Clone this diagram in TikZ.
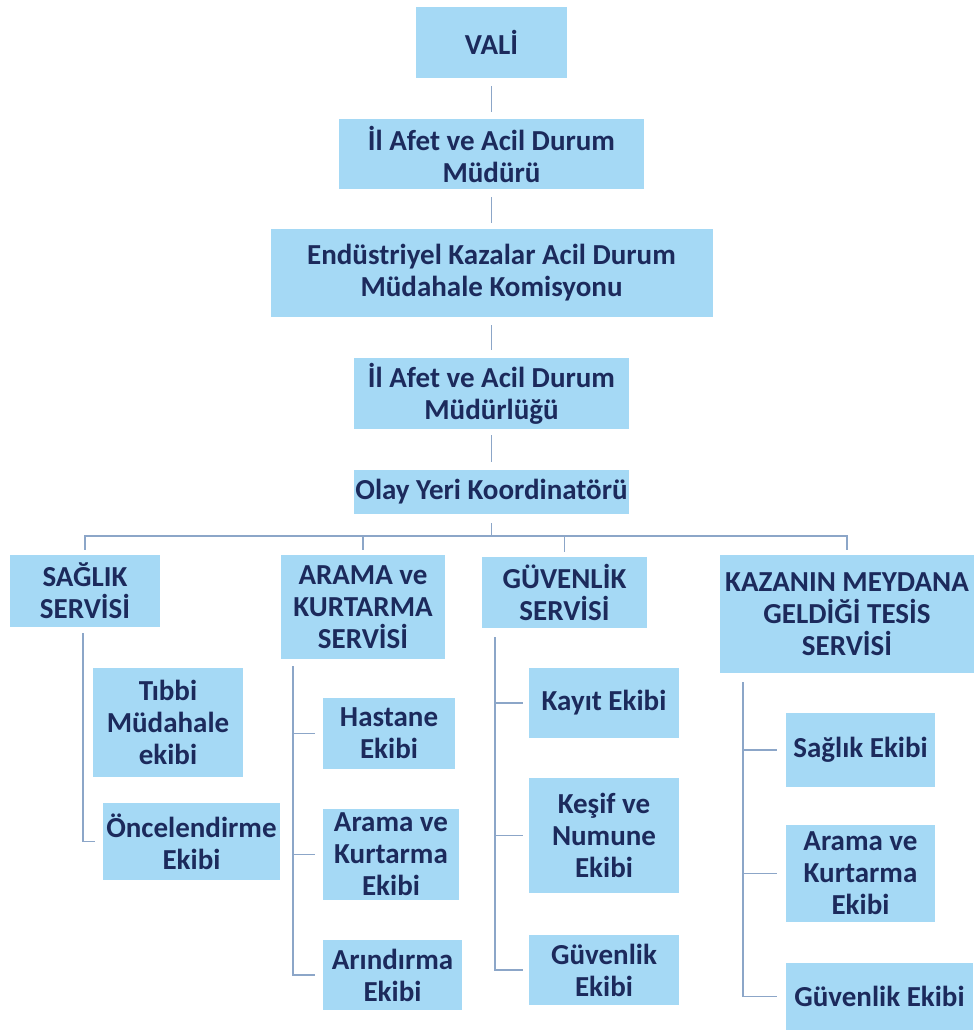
\documentclass[tikz,border=0pt]{standalone}
\usepackage{fontspec}
\setmainfont{Carlito}
\definecolor{boxfill}{RGB}{165,217,245}
\definecolor{boxtext}{RGB}{28,42,92}
\definecolor{linecol}{RGB}{140,166,200}
\begin{document}
\begin{tikzpicture}[x=1pt,y=-1pt,
  box/.style={fill=boxfill,draw=none,inner sep=0pt,align=center,
    font=\fontsize{29}{32}\selectfont\bfseries,text=boxtext},
  conn/.style={draw=linecol,line width=1.3pt}]
\useasboundingbox (0,0) rectangle (974,1032);
% top chain
\node[box,minimum width=151pt,minimum height=71pt] (vali) at (491.5,42.5) {VALİ};
\node[box,minimum width=305pt,minimum height=70pt] (mudur) at (491.5,154) {İl Afet ve Acil Durum\\Müdürü};
\node[box,minimum width=442pt,minimum height=88pt] (komisyon) at (491.5,273) {Endüstriyel Kazalar Acil Durum\\Müdahale Komisyonu};
\node[box,minimum width=275pt,minimum height=71pt] (mudurluk) at (491.5,393.5) {İl Afet ve Acil Durum\\Müdürlüğü};
\node[box,minimum width=275pt,minimum height=44pt] (olay) at (491.5,492) {Olay Yeri Koordinatörü};
% services
\node[box,minimum width=150pt,minimum height=72pt] (saglik) at (85,591) {SAĞLIK\\SERVİSİ};
\node[box,minimum width=164pt,minimum height=104pt] (arama) at (363,607) {ARAMA ve\\KURTARMA\\SERVİSİ};
\node[box,minimum width=165pt,minimum height=71pt] (guvenlik) at (564.5,592.5) {GÜVENLİK\\SERVİSİ};
\node[box,minimum width=254pt,minimum height=118pt] (kazanin) at (847,614) {KAZANIN MEYDANA\\GELDİĞİ TESİS\\SERVİSİ};
% teams
\node[box,minimum width=150pt,minimum height=109pt] (tibbi) at (168,722.5) {Tıbbi\\Müdahale\\ekibi};
\node[box,minimum width=177pt,minimum height=77pt] (oncel) at (191.5,841.5) {Öncelendirme\\Ekibi};
\node[box,minimum width=132pt,minimum height=71pt] (hastane) at (389,733.5) {Hastane\\Ekibi};
\node[box,minimum width=136pt,minimum height=91pt] (akekibi) at (391,854.5) {Arama ve\\Kurtarma\\Ekibi};
\node[box,minimum width=139pt,minimum height=70pt] (arindirma) at (392.5,975) {Arındırma\\Ekibi};
\node[box,minimum width=150pt,minimum height=70pt] (kayit) at (604,703) {Kayıt Ekibi};
\node[box,minimum width=150pt,minimum height=115pt] (kesif) at (604,835.5) {Keşif ve\\Numune\\Ekibi};
\node[box,minimum width=150pt,minimum height=70pt] (guvekibi) at (604,970) {Güvenlik\\Ekibi};
\node[box,minimum width=149pt,minimum height=74pt] (ksaglik) at (860.5,750) {Sağlık Ekibi};
\node[box,minimum width=149pt,minimum height=97pt] (karama) at (860.5,873.5) {Arama ve\\Kurtarma\\Ekibi};
\node[box,minimum width=187pt,minimum height=67pt] (kguv) at (879.5,996.5) {Güvenlik Ekibi};
% top connectors
\draw[conn,shorten <=8pt,shorten >=7pt] (vali) -- (mudur);
\draw[conn,shorten <=8pt,shorten >=6pt] (mudur) -- (komisyon);
\draw[conn,shorten <=8pt,shorten >=8pt] (komisyon) -- (mudurluk);
\draw[conn,shorten <=6pt,shorten >=8pt] (mudurluk) -- (olay);
\coordinate (bar) at (491.5,536);
\draw[conn,shorten <=9pt] (olay.south) -- (bar);
\draw[conn] ([yshift=5pt]saglik.north) -- (saglik.north |- bar) -- (kazanin.north |- bar) -- ([yshift=5pt]kazanin.north);
\draw[conn] ([yshift=5pt]arama.north) -- (arama.north |- bar);
\draw[conn] ([yshift=5pt]guvenlik.north) -- (guvenlik.north |- bar);
% sub-trees
\coordinate (s1) at (83,633);
\draw[conn] (s1) |- ([xshift=-8pt]oncel.west);
\coordinate (s2) at (293,666);
\draw[conn] (s2) |- ([xshift=-8pt]arindirma.west);
\draw[conn] (s2 |- hastane.west) -- ([xshift=-8pt]hastane.west);
\draw[conn] (s2 |- akekibi.west) -- ([xshift=-8pt]akekibi.west);
\coordinate (s3) at (495,637);
\draw[conn] (s3) |- ([xshift=-6pt]guvekibi.west);
\draw[conn] (s3 |- kayit.west) -- ([xshift=-6pt]kayit.west);
\draw[conn] (s3 |- kesif.west) -- ([xshift=-6pt]kesif.west);
\coordinate (s4) at (743,682);
\draw[conn] (s4) |- ([xshift=-9pt]kguv.west);
\draw[conn] (s4 |- ksaglik.west) -- ([xshift=-9pt]ksaglik.west);
\draw[conn] (s4 |- karama.west) -- ([xshift=-9pt]karama.west);
\end{tikzpicture}
\end{document}
